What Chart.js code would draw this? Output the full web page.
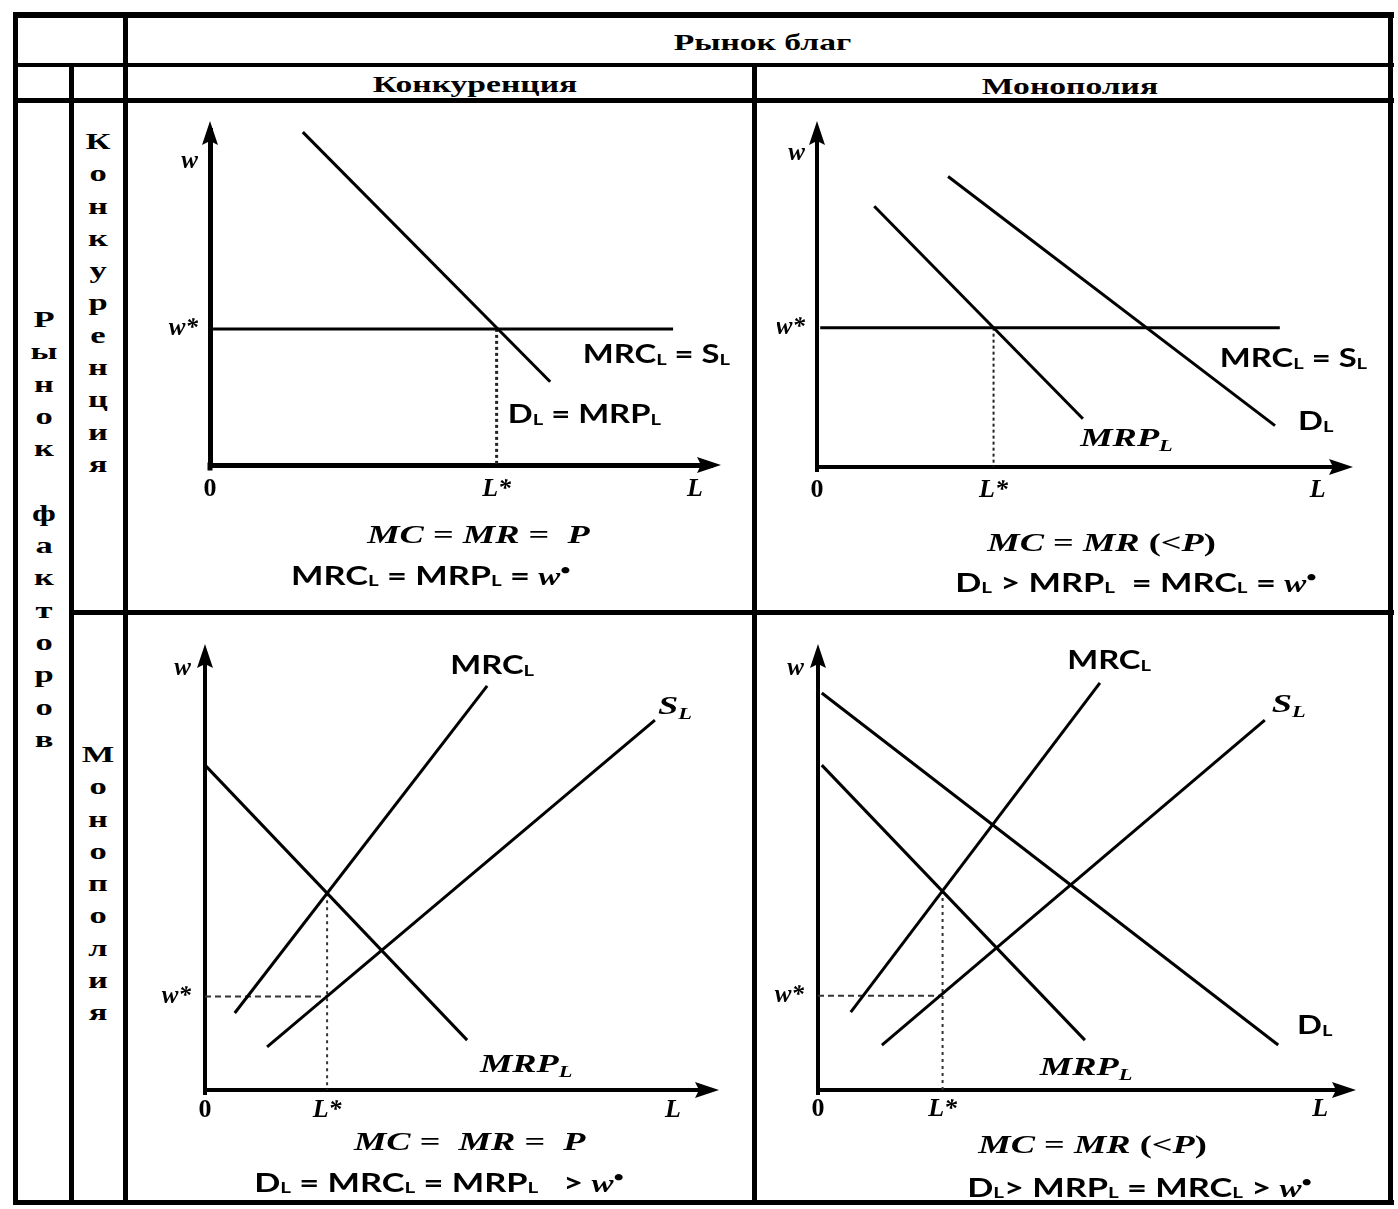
<!DOCTYPE html>
<html><head><meta charset="utf-8">
<script src="https://cdn.jsdelivr.net/npm/chart.js@4/dist/chart.umd.min.js"></script>
<style>
html,body{margin:0;padding:0;background:#fff;}
#page{position:relative;width:1398px;height:1209px;overflow:hidden;background:#fff;}
.ln{position:absolute;background:#000;}
canvas{position:absolute;}
.txt{position:absolute;text-align:center;white-space:pre;color:#000;line-height:40px;height:40px;}
.txt > span{display:inline-block;transform:scaleX(1.4);transform-origin:50% 50%;}
.txt.sans > span{transform:scaleX(1.32);}
.serif{font-family:"Liberation Serif","DejaVu Serif",serif;font-weight:bold;}
.sans{font-family:Lato,"Liberation Sans",sans-serif;font-size:26px;font-weight:bold;}
.cap1{font-size:26px;}
.sb{font-size:60%;vertical-align:-0.06em;}
.wv{font-family:"Liberation Serif","DejaVu Serif",serif;font-style:italic;font-weight:bold;font-size:25px;}
.wv sup{font-size:90%;font-style:normal;vertical-align:0.3em;line-height:0;}
.vcol{position:absolute;width:60px;text-align:center;font-family:"Liberation Serif","DejaVu Serif",serif;font-weight:bold;font-size:23px;transform:scaleX(1.5);}
.vcol span{display:block;height:32.3px;line-height:32.3px;}
</style>
</head><body>
<div id="page">
  <!-- table rules -->
  <div class="ln" style="left:13px;top:12px;width:1381px;height:6px"></div>
  <div class="ln" style="left:13px;top:63px;width:1381px;height:4px"></div>
  <div class="ln" style="left:13px;top:98px;width:1381px;height:5px"></div>
  <div class="ln" style="left:70px;top:610px;width:1324px;height:5px"></div>
  <div class="ln" style="left:13px;top:1200px;width:1381px;height:5px"></div>
  <div class="ln" style="left:13px;top:12px;width:5px;height:1193px"></div>
  <div class="ln" style="left:69px;top:63px;width:5px;height:1142px"></div>
  <div class="ln" style="left:123px;top:12px;width:5px;height:1193px"></div>
  <div class="ln" style="left:752px;top:63px;width:5px;height:1142px"></div>
  <div class="ln" style="left:1388px;top:12px;width:5px;height:1193px"></div>

  <!-- headers -->
  <div class="txt serif" style="left:462px;width:600px;top:22px;font-size:24px"><span>Рынок благ</span></div>
  <div class="txt serif" style="left:175px;width:600px;top:64px;font-size:24px"><span>Конкуренция</span></div>
  <div class="txt serif" style="left:770px;width:600px;top:66px;font-size:24px"><span>Монополия</span></div>

  <div class="vcol" id="v1" style="left:14px;top:304px"></div>
  <div class="vcol" id="v2" style="left:68px;top:126px"></div>
  <div class="vcol" id="v3" style="left:68px;top:739px"></div>

  <canvas id="c1" width="624" height="506" style="left:128px;top:103px"></canvas>
  <canvas id="c2" width="629" height="506" style="left:758px;top:103px"></canvas>
  <canvas id="c3" width="624" height="584" style="left:128px;top:615px"></canvas>
  <canvas id="c4" width="629" height="584" style="left:758px;top:615px"></canvas>

  <!-- captions -->
  <div class="txt serif cap1" style="left:178px;width:600px;top:515px"><span><i>MC</i> = <i>MR</i> =  <i>P</i></span></div>
  <div class="txt sans" style="left:131px;width:600px;top:555px"><span>MRC<span class="sb">L</span> = MRP<span class="sb">L</span> = <span class="wv">w<sup>•</sup></span></span></div>

  <div class="txt serif cap1" style="left:802px;width:600px;top:523px"><span><i>MC</i> = <i>MR</i> (&lt;<i>P</i>)</span></div>
  <div class="txt sans" style="left:836px;width:600px;top:562px"><span>D<span class="sb">L</span> &gt; MRP<span class="sb">L</span>  = MRC<span class="sb">L</span> = <span class="wv">w<sup>•</sup></span></span></div>

  <div class="txt serif cap1" style="left:170px;width:600px;top:1122px"><span><i>MC</i> =  <i>MR</i> =  <i>P</i></span></div>
  <div class="txt sans" style="left:139px;width:600px;top:1162px"><span>D<span class="sb">L</span> = MRC<span class="sb">L</span> = MRP<span class="sb">L</span>   &gt; <span class="wv">w<sup>•</sup></span></span></div>

  <div class="txt serif cap1" style="left:793px;width:600px;top:1125px"><span><i>MC</i> = <i>MR</i> (&lt;<i>P</i>)</span></div>
  <div class="txt sans" style="left:840px;width:600px;top:1167px"><span>D<span class="sb">L</span>&gt; MRP<span class="sb">L</span> = MRC<span class="sb">L</span> &gt; <span class="wv">w<sup>•</sup></span></span></div>
</div>
<script>
// ---------- vertical row headings ----------
const rowHeadOuter = "Рынок факторов";
const rowHeadTop = "Конкуренция";
const rowHeadBottom = "Монополия";

// ---------- tick labels ----------
const xTickLabels = ['0', 'L*', 'L'];
const yTickLabels = ['w*', 'w'];

// ---------- Chart 1: competitive factor market, competitive product market ----------
const c1_DL_MRPL = [{x:18.2,y:97.1},{x:66.7,y:24.3}];
const c1_MRCL_SL = [{x:0.6,y:39.7},{x:90.8,y:39.7}];
const c1_Lstar   = [{x:56.2,y:39.7},{x:56.2,y:0}];
const c1_xTicks  = [0, 56.2, 95.1];
const c1_yTicks  = [39.7, 88.6];

// ---------- Chart 2: competitive factor market, monopoly product market ----------
const c2_MRPL    = [{x:10.7,y:75.6},{x:49.7,y:14.0}];
const c2_DL      = [{x:24.5,y:84.2},{x:85.6,y:12.0}];
const c2_MRCL_SL = [{x:0.6,y:40.4},{x:86.5,y:40.4}];
const c2_Lstar   = [{x:33.0,y:40.4},{x:33.0,y:0}];
const c2_xTicks  = [0, 33.0, 93.6];
const c2_yTicks  = [40.4, 90.8];

// ---------- Chart 3: monopsony, competitive product market ----------
const c3_MRPL  = [{x:0,y:73.0},{x:51.1,y:11.2}];
const c3_MRCL  = [{x:5.8,y:17.3},{x:55.0,y:90.8}];
const c3_SL    = [{x:12.1,y:9.7},{x:87.7,y:83.1}];
const c3_wstar = [{x:0,y:21.0},{x:23.8,y:21.0}];
const c3_Lstar = [{x:23.8,y:44.2},{x:23.8,y:0}];
const c3_xTicks = [0, 23.8, 91.2];
const c3_yTicks = [21.0, 94.8];

// ---------- Chart 4: monopsony, monopoly product market ----------
const c4_DL    = [{x:0.7,y:89.2},{x:85.7,y:10.1}];
const c4_MRPL  = [{x:0.7,y:73.0},{x:49.7,y:11.2}];
const c4_MRCL  = [{x:6.1,y:17.5},{x:52.5,y:91.5}];
const c4_SL    = [{x:11.9,y:10.1},{x:83.2,y:83.1}];
const c4_wstar = [{x:0,y:21.2},{x:23.2,y:21.2}];
const c4_Lstar = [{x:23.2,y:44.7},{x:23.2,y:0}];
const c4_xTicks = [0, 23.2, 93.5];
const c4_yTicks = [21.2, 94.8];

// ---------- vertical headings ----------
function fillCol(id, s){
  const el = document.getElementById(id);
  for (const ch of s){ const sp = document.createElement('span'); sp.textContent = ch === ' ' ? '\u00a0' : ch; el.appendChild(sp); }
}
fillCol('v1', rowHeadOuter); fillCol('v2', rowHeadTop); fillCol('v3', rowHeadBottom);

// ---------- drawing helpers ----------
const SANS = 'Lato, "Liberation Sans", sans-serif';
const SERIF = '"Liberation Serif", "DejaVu Serif", serif';

function drawRich(ctx, x, yMid, parts, kind){
  const isSans = kind === 'sans';
  const size = 26;
  const subSize = Math.round(size*0.6);
  const main = isSans ? `bold ${size}px ${SANS}` : `italic bold ${size}px ${SERIF}`;
  const sub  = isSans ? `bold ${subSize}px ${SANS}` : `italic bold ${subSize}px ${SERIF}`;
  const subDy = isSans ? 2 : 5;
  ctx.save();
  ctx.translate(x, yMid + size*0.35);
  ctx.scale(isSans ? 1.26 : 1.4, 1);
  ctx.fillStyle = '#000'; ctx.textAlign = 'left'; ctx.textBaseline = 'alphabetic';
  let cx = 0;
  for (const [t, s] of parts){
    ctx.font = s ? sub : main;
    ctx.fillText(t, cx, s ? subDy : 0);
    cx += ctx.measureText(t).width;
  }
  ctx.restore();
}

function makeChart(id, cfg){
  const labelsPlugin = {
    id: 'curveLabels',
    afterDraw(chart){
      const {ctx} = chart; const sx = chart.scales.x, sy = chart.scales.y;
      for (const l of cfg.labels){
        drawRich(ctx, sx.getPixelForValue(l.x), sy.getPixelForValue(l.y), l.parts, l.kind);
      }
    }
  };
  const arrowPlugin = {
    id: 'axisArrows',
    afterDraw(chart){
      const {ctx, chartArea:a} = chart; const w = cfg.axisW;
      ctx.save(); ctx.fillStyle = '#000';
      ctx.beginPath();
      ctx.moveTo(a.right + 9, a.bottom);
      ctx.lineTo(a.right - 15, a.bottom - 8);
      ctx.lineTo(a.right - 11, a.bottom);
      ctx.lineTo(a.right - 15, a.bottom + 8);
      ctx.closePath(); ctx.fill();
      ctx.beginPath();
      ctx.moveTo(a.left, a.top - 9);
      ctx.lineTo(a.left - 8, a.top + 15);
      ctx.lineTo(a.left, a.top + 11);
      ctx.lineTo(a.left + 8, a.top + 15);
      ctx.closePath(); ctx.fill();
      ctx.fillRect(a.left - w/2, a.bottom - w/2, w, w + 3);
      ctx.restore();
    }
  };
  const tickFont = (ctx) => (ctx.index === 0 && ctx.scale.axis === 'x')
      ? {family: SERIF, size: 26, weight: 'bold'}
      : {family: SERIF, size: ctx.scale.axis === 'x' ? 26 : 25, weight: 'bold', style: 'italic'};
  return new Chart(document.getElementById(id), {
    type: 'scatter',
    data: { datasets: cfg.series.map(s => ({
      data: s.data, showLine: true, borderColor: s.color || '#000', borderWidth: s.w || 3,
      borderDash: s.dash || [], borderCapStyle: 'butt', pointRadius: 0, pointHoverRadius: 0,
      fill: false, tension: 0, clip: false
    })) },
    options: {
      responsive: false, animation: false, events: [],
      layout: { padding: cfg.pad },
      plugins: { legend: {display: false}, tooltip: {enabled: false} },
      scales: {
        x: { type: 'linear', min: 0, max: cfg.xmax,
             grid: {display: false, drawTicks: false},
             border: {display: true, width: cfg.axisW, color: '#000'},
             afterBuildTicks: s => { s.ticks = cfg.xTicks.map(v => ({value: v})); },
             afterFit: s => { s.height = 40; },
             ticks: { autoSkip: false, maxRotation: 0, padding: cfg.xPad, color: '#000',
                      callback: (v, i) => xTickLabels[i], font: tickFont } },
        y: { type: 'linear', min: 0, max: cfg.ymax,
             grid: {display: false, drawTicks: false},
             border: {display: true, width: cfg.axisW, color: '#000'},
             afterBuildTicks: s => { s.ticks = cfg.yTicks.map(v => ({value: v})); },
             afterFit: s => { s.width = cfg.yW; },
             ticks: { autoSkip: false, padding: cfg.yPad, color: '#000',
                      callback: (v, i) => yTickLabels[i], font: tickFont } }
      }
    },
    plugins: [arrowPlugin, labelsPlugin]
  });
}

const P_MRC_S = [['MRC',0],['L',1],[' = S',0],['L',1]];
const P_D_MRP = [['D',0],['L',1],[' = MRP',0],['L',1]];
const P_DL = [['D',0],['L',1]];
const P_MRPL = [['MRP',0],['L',1]];
const P_MRCL = [['MRC',0],['L',1]];
const P_SL = [['S',0],['L',1]];

makeChart('c1', {
  xmax: 98.43, ymax: 97.71, axisW: 5, yW: 50, xPad: 9, yPad: 12,
  pad: {left: 32, right: 40, top: 20, bottom: 104},
  xTicks: c1_xTicks, yTicks: c1_yTicks,
  series: [
    {data: c1_DL_MRPL}, {data: c1_MRCL_SL},
    {data: c1_Lstar, w: 3, dash: [3, 3], color: '#222'}
  ],
  labels: [
    {x: 73.1, y: 32.3, parts: P_MRC_S, kind: 'sans'},
    {x: 58.4, y: 14.9, parts: P_D_MRP, kind: 'sans'}
  ]
});

makeChart('c2', {
  xmax: 98.5, ymax: 97.7, axisW: 4, yW: 40, xPad: 8, yPad: 12,
  pad: {left: 19, right: 43, top: 23, bottom: 102},
  xTicks: c2_xTicks, yTicks: c2_yTicks,
  series: [
    {data: c2_MRPL}, {data: c2_DL}, {data: c2_MRCL_SL},
    {data: c2_Lstar, w: 2, dash: [3, 3], color: '#222'}
  ],
  labels: [
    {x: 75.3, y: 31.5, parts: P_MRC_S, kind: 'sans'},
    {x: 89.9, y: 13.5, parts: P_DL, kind: 'sans'},
    {x: 49.2, y: 8.6, parts: P_MRPL, kind: 'serif'}
  ]
});

makeChart('c3', {
  xmax: 98.44, ymax: 98.2, axisW: 4, yW: 50, xPad: 5, yPad: 14,
  pad: {left: 27, right: 42, top: 38, bottom: 69},
  xTicks: c3_xTicks, yTicks: c3_yTicks,
  series: [
    {data: c3_MRPL}, {data: c3_MRCL}, {data: c3_SL},
    {data: c3_wstar, w: 2, dash: [6, 4], color: '#333'},
    {data: c3_Lstar, w: 2, dash: [3, 4], color: '#333'}
  ],
  labels: [
    {x: 47.8, y: 95.5, parts: P_MRCL, kind: 'sans'},
    {x: 88.3, y: 86.5, parts: P_SL, kind: 'serif'},
    {x: 53.6, y: 6.1, parts: P_MRPL, kind: 'serif'}
  ]
});

makeChart('c4', {
  xmax: 98.51, ymax: 98.2, axisW: 4, yW: 45, xPad: 4, yPad: 14,
  pad: {left: 15, right: 40, top: 38, bottom: 69},
  xTicks: c4_xTicks, yTicks: c4_yTicks,
  series: [
    {data: c4_DL}, {data: c4_MRPL}, {data: c4_MRCL}, {data: c4_SL},
    {data: c4_wstar, w: 2, dash: [6, 4], color: '#333'},
    {data: c4_Lstar, w: 2, dash: [3, 4], color: '#333'}
  ],
  labels: [
    {x: 46.4, y: 96.6, parts: P_MRCL, kind: 'sans'},
    {x: 84.5, y: 87.0, parts: P_SL, kind: 'serif'},
    {x: 89.2, y: 14.6, parts: P_DL, kind: 'sans'},
    {x: 41.3, y: 5.4, parts: P_MRPL, kind: 'serif'}
  ]
});
</script>
</body></html>
